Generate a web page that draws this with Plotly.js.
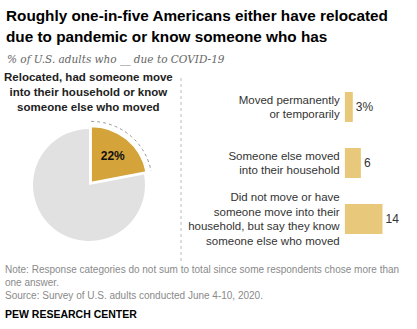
<!DOCTYPE html>
<html><head><meta charset="utf-8">
<script src="https://cdn.plot.ly/plotly-3.0.1.min.js"></script>
<style>html,body{margin:0;padding:0;background:#fff}#c{width:417px;height:329px}</style>
</head><body><div id="c"></div>
<script>
// Data
const pieLabels = ['Relocated, had someone move in, or know someone who moved', 'Other'];
const pieValues = [22, 78];
const pieText = ['22%', ''];
const barCategories = [
  'Moved permanently<br>or temporarily',
  'Someone else moved<br>into their household',
  'Did not move or have<br>someone move into their<br>household, but say they know<br>someone else who moved'
];
const barValues = [3, 6, 14];
const barText = ['3%', '6', '14'];

const W = 417, H = 329;
const px = x => x / W;
const py = y => 1 - y / H;

// pie geometry (pixels)
const pull = 0.06;
const pcx = 89, pcy = 185, pr = 56;
const half = pr * (1 + pull);

const pie = {
  type: 'pie', values: pieValues, labels: pieLabels, text: pieText,
  textinfo: 'text', textposition: 'inside', insidetextorientation: 'horizontal',
  insidetextfont: {family: 'Liberation Sans', size: 12, color: '#111', weight: 'bold'},
  sort: false, direction: 'clockwise', rotation: 0,
  pull: [pull, 0],
  marker: {colors: ['#D4A43A', '#E1E1E1'], line: {color: '#ffffff', width: [1.5, 0]}},
  domain: {x: [px(pcx - half), px(pcx + half)], y: [py(pcy + half), py(pcy - half)]},
  showlegend: false, hoverinfo: 'none'
};

const bar = {
  type: 'bar', orientation: 'h', x: barValues, y: [0, 1, 2], text: barText,
  textposition: 'outside', cliponaxis: false,
  textfont: {family: 'Liberation Sans', size: 12, color: '#333'},
  marker: {color: '#E8C97B'}, xaxis: 'x', yaxis: 'y', showlegend: false, hoverinfo: 'none'
};

// dotted arc around the gold slice (derived from data share)
const share = pieValues[0] / pieValues.reduce((a, b) => a + b, 0);
const ang = share * 2 * Math.PI;
const mid = ang / 2;
const vx = pcx + pr * pull * Math.sin(mid), vy = pcy - pr * pull * Math.cos(mid);
const ar = pr + 5;
let path = '';
const N = 40;
for (let i = 0; i <= N; i++) {
  const a = ang * i / N;
  const x = vx + ar * Math.sin(a), y = vy - ar * Math.cos(a);
  path += (i === 0 ? 'M' : 'L') + px(x).toFixed(5) + ',' + py(y).toFixed(5) + ' ';
}

const ann = (text, x, y, opts) => Object.assign({text, x: px(x), y: py(y), xref: 'paper', yref: 'paper', showarrow: false}, opts);
const titleFont = {family: 'Liberation Sans', size: 15.3, color: '#000', weight: 'bold'};
const noteFont = {family: 'Liberation Sans', size: 10, color: '#8a8a8a'};

const layout = {
  width: W, height: H, margin: {l: 0, r: 0, t: 0, b: 0},
  paper_bgcolor: '#fff', plot_bgcolor: '#fff',
  xaxis: {domain: [px(344.7), px(410)], range: [0, 24.2], visible: false, fixedrange: true},
  yaxis: {domain: [py(247), py(79)], range: [2.5, -0.5], tickvals: [0, 1, 2], ticktext: barCategories,
    showgrid: false, zeroline: false, showline: false, ticks: '', ticklabelstandoff: 4,
    tickfont: {family: 'Liberation Sans', size: 11.5, color: '#333'}},
  bargap: 0.46,
  shapes: [
    {type: 'line', xref: 'paper', yref: 'paper', x0: px(181), x1: px(181), y0: py(78), y1: py(262),
      line: {color: '#bbb', width: 1, dash: 'dot'}},
    {type: 'path', xref: 'paper', yref: 'paper', path: path, line: {color: '#999', width: 1, dash: 'dot'}}
  ],
  annotations: [
    ann('Roughly one-in-five Americans either have relocated', 4, 15, {xanchor: 'left', yanchor: 'middle', font: titleFont}),
    ann('due to pandemic or know someone who has', 4, 36, {xanchor: 'left', yanchor: 'middle', font: titleFont}),
    ann('% of U.S. adults who __ due to COVID-19', 5, 59, {xanchor: 'left', yanchor: 'middle',
      font: {family: 'DejaVu Serif', size: 10.5, color: '#666', style: 'italic'}}),
    ann('Relocated, had someone move<br>into their household or know<br>someone else who moved', 88, 92,
      {xanchor: 'center', yanchor: 'middle', align: 'center', font: {family: 'Liberation Sans', size: 11.5, color: '#222', weight: 'bold'}}),
    ann('Note: Response categories do not sum to total since some respondents chose more than<br>one answer.<br>Source: Survey of U.S. adults conducted June 4-10, 2020.', 3, 282,
      {xanchor: 'left', yanchor: 'middle', align: 'left', font: noteFont}),
    ann('PEW RESEARCH CENTER', 3, 314, {xanchor: 'left', yanchor: 'middle',
      font: {family: 'Liberation Sans', size: 10.5, color: '#000', weight: 'bold'}})
  ]
};

Plotly.newPlot('c', [pie, bar], layout, {displayModeBar: false, staticPlot: true});
</script></body></html>
